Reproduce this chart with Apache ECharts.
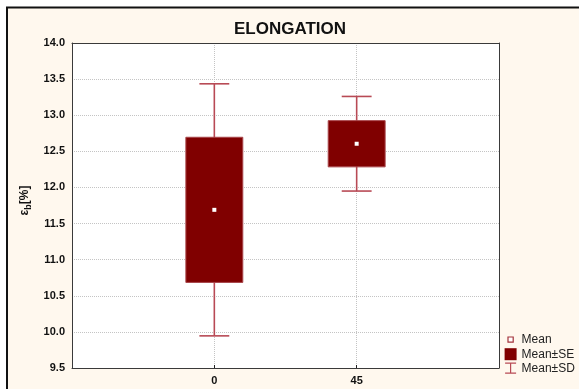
<!DOCTYPE html>
<html>
<head>
<meta charset="utf-8">
<title>ELONGATION</title>
<script src="https://cdn.jsdelivr.net/npm/echarts@6/dist/echarts.min.js"></script>
<style>
  html, body { margin: 0; padding: 0; background: #ffffff; }
  #chart { width: 579px; height: 389px; }
</style>
</head>
<body>
<div id="chart"></div>
<script>
// Elongation at break per group: mean, standard error and standard deviation (%)
var categories = ['0', '45'];
var means = [11.69, 12.605];
var stdErr = [1.005, 0.32];
var stdDev = [1.745, 0.655];

// Y axis range and step
var yMin = 9.5;
var yMax = 14.0;
var yStep = 0.5;

// The category axis gets an empty slot on each side so the groups sit at 1/3 and 2/3
var xSlots = [''].concat(categories).concat(['']);

var FONT = 'Liberation Sans, Arial, sans-serif';
var BOX_COLOR = '#800000';
var WHISKER_COLOR = '#b84a55';
var FRAME_COLOR = '#3a3a3a';
var GRID_COLOR = '#c4c4c4';

var rows = categories.map(function (c, i) {
  return [i + 1, means[i], stdErr[i], stdDev[i]];
});

function sdItem(params, api) {
  var x = api.value(0), m = api.value(1), s = api.value(3);
  var top = api.coord([x, m + s]);
  var bot = api.coord([x, m - s]);
  var half = api.size([1, 0])[0] * 0.105;
  var st = { stroke: WHISKER_COLOR, lineWidth: 1.6 };
  return {
    type: 'group',
    children: [
      { type: 'line', shape: { x1: top[0], y1: top[1], x2: bot[0], y2: bot[1] }, style: st },
      { type: 'line', shape: { x1: top[0] - half, y1: top[1], x2: top[0] + half, y2: top[1] }, style: st },
      { type: 'line', shape: { x1: bot[0] - half, y1: bot[1], x2: bot[0] + half, y2: bot[1] }, style: st }
    ]
  };
}

function seItem(params, api) {
  var x = api.value(0), m = api.value(1), s = api.value(2);
  var top = api.coord([x, m + s]);
  var bot = api.coord([x, m - s]);
  var half = api.size([1, 0])[0] * 0.2;
  return {
    type: 'rect',
    shape: { x: top[0] - half, y: top[1], width: half * 2, height: bot[1] - top[1] },
    style: { fill: BOX_COLOR, stroke: '#a8454a', lineWidth: 1 }
  };
}

function meanItem(params, api) {
  var p = api.coord([api.value(0), api.value(1)]);
  return {
    type: 'rect',
    shape: { x: p[0] - 2, y: p[1] - 2, width: 4, height: 4 },
    style: { fill: '#ffffff' }
  };
}

var chart = echarts.init(document.getElementById('chart'), null, { renderer: 'canvas' });

chart.setOption({
  backgroundColor: '#ffffff',
  animation: false,
  graphic: [
    {
      type: 'rect',
      z: -10,
      silent: true,
      shape: { x: 7, y: 7.5, width: 620, height: 420 },
      style: { fill: '#fff8ee', stroke: '#111111', lineWidth: 2 }
    }
  ],
  title: {
    text: 'ELONGATION',
    left: 285,
    textAlign: 'center',
    top: 16,
    textStyle: { fontFamily: FONT, fontWeight: 'bold', fontSize: 17, color: '#111111' }
  },
  legend: {
    orient: 'vertical',
    left: 499,
    top: 328,
    itemWidth: 12,
    itemHeight: 12,
    itemGap: 2,
    itemTextGap: 5,
    selectedMode: false,
    textStyle: { fontFamily: FONT, fontSize: 12, color: '#222222' },
    data: [
      {
        name: 'Mean',
        icon: 'path://M0,0M12,12M3.4,3.4h5.2v5.2h-5.2z',
        itemStyle: { color: '#ffffff', borderColor: '#a3333b', borderWidth: 1.2 }
      },
      {
        name: 'Mean±SE',
        icon: 'rect',
        itemStyle: { color: BOX_COLOR }
      },
      {
        name: 'Mean±SD',
        icon: 'path://M0,0M12,12M0.5,0.4h11v1.2h-4.9v8.8h4.9v1.2h-11v-1.2h4.9v-8.8h-4.9z',
        itemStyle: { color: WHISKER_COLOR }
      }
    ]
  },
  grid: {
    left: 72,
    right: 80,
    top: 43,
    bottom: 21,
    show: true,
    backgroundColor: '#ffffff',
    borderWidth: 0
  },
  xAxis: [
    {
      type: 'category',
      position: 'bottom',
      data: xSlots,
      boundaryGap: false,
      z: 1,
      axisLine: { show: true, lineStyle: { color: FRAME_COLOR, width: 1 } },
      axisTick: {
        show: true,
        inside: true,
        length: 3,
        interval: function (i) { return i > 0 && i < xSlots.length - 1; },
        lineStyle: { color: '#222222' }
      },
      axisLabel: {
        interval: 0,
        margin: 7,
        fontFamily: FONT,
        fontWeight: 'bold',
        fontSize: 11,
        color: '#111111'
      },
      splitLine: { show: false }
    },
    {
      type: 'category',
      position: 'top',
      data: xSlots,
      boundaryGap: false,
      z: 0,
      axisLine: { show: true, lineStyle: { color: FRAME_COLOR, width: 1 } },
      axisTick: { show: false },
      axisLabel: { show: false },
      splitLine: {
        show: true,
        interval: function (i) { return i > 0 && i < xSlots.length - 1; },
        lineStyle: { color: GRID_COLOR, type: 'dotted', width: 1 }
      }
    }
  ],
  yAxis: [
    {
      type: 'value',
      position: 'left',
      min: yMin,
      max: yMax,
      interval: yStep,
      z: 0,
      name: '{e|ε}{s|b}{e|[%]}',
      nameLocation: 'middle',
      nameGap: 37,
      nameRotate: 90,
      nameTextStyle: {
        fontFamily: FONT,
        color: '#111111',
        padding: [0, 0, 0, 10],
        rich: {
          e: { fontFamily: FONT, fontWeight: 'bold', fontSize: 12, color: '#111111' },
          s: { fontFamily: FONT, fontWeight: 'bold', fontSize: 9, color: '#111111', padding: [7, 0, 0, 0] }
        }
      },
      axisLine: { show: true, lineStyle: { color: FRAME_COLOR, width: 1 } },
      axisTick: { show: false },
      axisLabel: {
        margin: 7,
        fontFamily: FONT,
        fontWeight: 'bold',
        fontSize: 11,
        color: '#111111',
        formatter: function (v) { return v.toFixed(1); }
      },
      splitLine: { show: true, lineStyle: { color: GRID_COLOR, type: 'dotted', width: 1 } }
    },
    {
      type: 'value',
      position: 'right',
      min: yMin,
      max: yMax,
      interval: yStep,
      z: 1,
      axisLine: { show: true, lineStyle: { color: FRAME_COLOR, width: 1 } },
      axisTick: { show: false },
      axisLabel: { show: false },
      splitLine: { show: false }
    }
  ],
  series: [
    {
      name: 'Mean±SD',
      type: 'custom',
      xAxisIndex: 0,
      yAxisIndex: 0,
      z: 2,
      itemStyle: { color: WHISKER_COLOR },
      encode: { x: 0, y: 1 },
      renderItem: sdItem,
      data: rows
    },
    {
      name: 'Mean±SE',
      type: 'custom',
      xAxisIndex: 0,
      yAxisIndex: 0,
      z: 3,
      itemStyle: { color: BOX_COLOR },
      encode: { x: 0, y: 1 },
      renderItem: seItem,
      data: rows
    },
    {
      name: 'Mean',
      type: 'custom',
      xAxisIndex: 0,
      yAxisIndex: 0,
      z: 4,
      itemStyle: { color: '#ffffff' },
      encode: { x: 0, y: 1 },
      renderItem: meanItem,
      data: rows
    }
  ]
});
</script>
</body>
</html>
